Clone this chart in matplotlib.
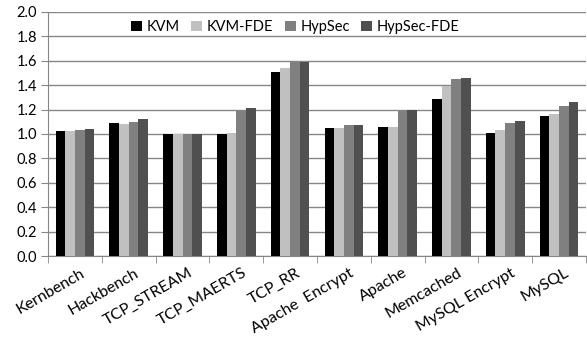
import matplotlib
matplotlib.use("Agg")
import matplotlib.pyplot as plt
import numpy as np

categories = ["Kernbench", "Hackbench", "TCP_STREAM", "TCP_MAERTS", "TCP_RR",
              "Apache  Encrypt", "Apache", "Memcached", "MySQL Encrypt", "MySQL"]
kvm = [1.02, 1.09, 1.00, 1.00, 1.51, 1.05, 1.06, 1.29, 1.01, 1.15]
kvm_fde = [1.02, 1.085, 1.00, 1.01, 1.54, 1.045, 1.06, 1.39, 1.03, 1.16]
hypsec = [1.03, 1.10, 1.00, 1.19, 1.585, 1.07, 1.19, 1.45, 1.09, 1.23]
hypsec_fde = [1.04, 1.12, 1.00, 1.21, 1.585, 1.07, 1.20, 1.46, 1.11, 1.26]
series_names = ["KVM", "KVM-FDE", "HypSec", "HypSec-FDE"]
yticks = [0.0, 0.2, 0.4, 0.6, 0.8, 1.0, 1.2, 1.4, 1.6, 1.8, 2.0]

colors = ["#000000", "#c0c0c0", "#808080", "#505050"]
plt.rcParams['font.family'] = ['Lato', 'DejaVu Sans']

fig = plt.figure(figsize=(5.87, 3.47), dpi=100)
ax = fig.add_axes([0.082, 0.262, 0.916, 0.704])

x = np.arange(len(categories))
w = 0.18
series = [kvm, kvm_fde, hypsec, hypsec_fde]
for i, (vals, name, c) in enumerate(zip(series, series_names, colors)):
    ax.bar(x + (i - 1.5) * w, vals, w, color=c, label=name, zorder=3)

ax.set_xlim(-0.5, len(categories) - 0.5)
ax.set_ylim(0, 2.0)
ax.set_yticks(yticks)
ax.set_yticklabels([f"{v:.1f}" for v in yticks], fontsize=10.5)
ax.yaxis.grid(True, color="#868686", linewidth=1.0, zorder=0)
ax.tick_params(axis='y', length=5, color="#868686", pad=3)

ax.set_xticks(x + 0.1)
ax.set_xticklabels(categories, rotation=30, ha='right', va='top',
                   rotation_mode='anchor', fontsize=11.5)
ax.set_xticks(np.arange(-0.5, len(categories), 1.0), minor=True)
ax.tick_params(axis='x', which='major', length=0, pad=7)
ax.tick_params(axis='x', which='minor', length=5, color="#868686")

for s in ["top", "right"]:
    ax.spines[s].set_visible(False)
for s in ["left", "bottom"]:
    ax.spines[s].set_color("#868686")

ax.legend(loc="upper center", bbox_to_anchor=(0.46, 1.02), ncol=4, frameon=False,
          fontsize=10.5, handlelength=0.75, handleheight=0.75, handletextpad=0.3,
          columnspacing=0.8)

fig.savefig("out.png", dpi=100)
